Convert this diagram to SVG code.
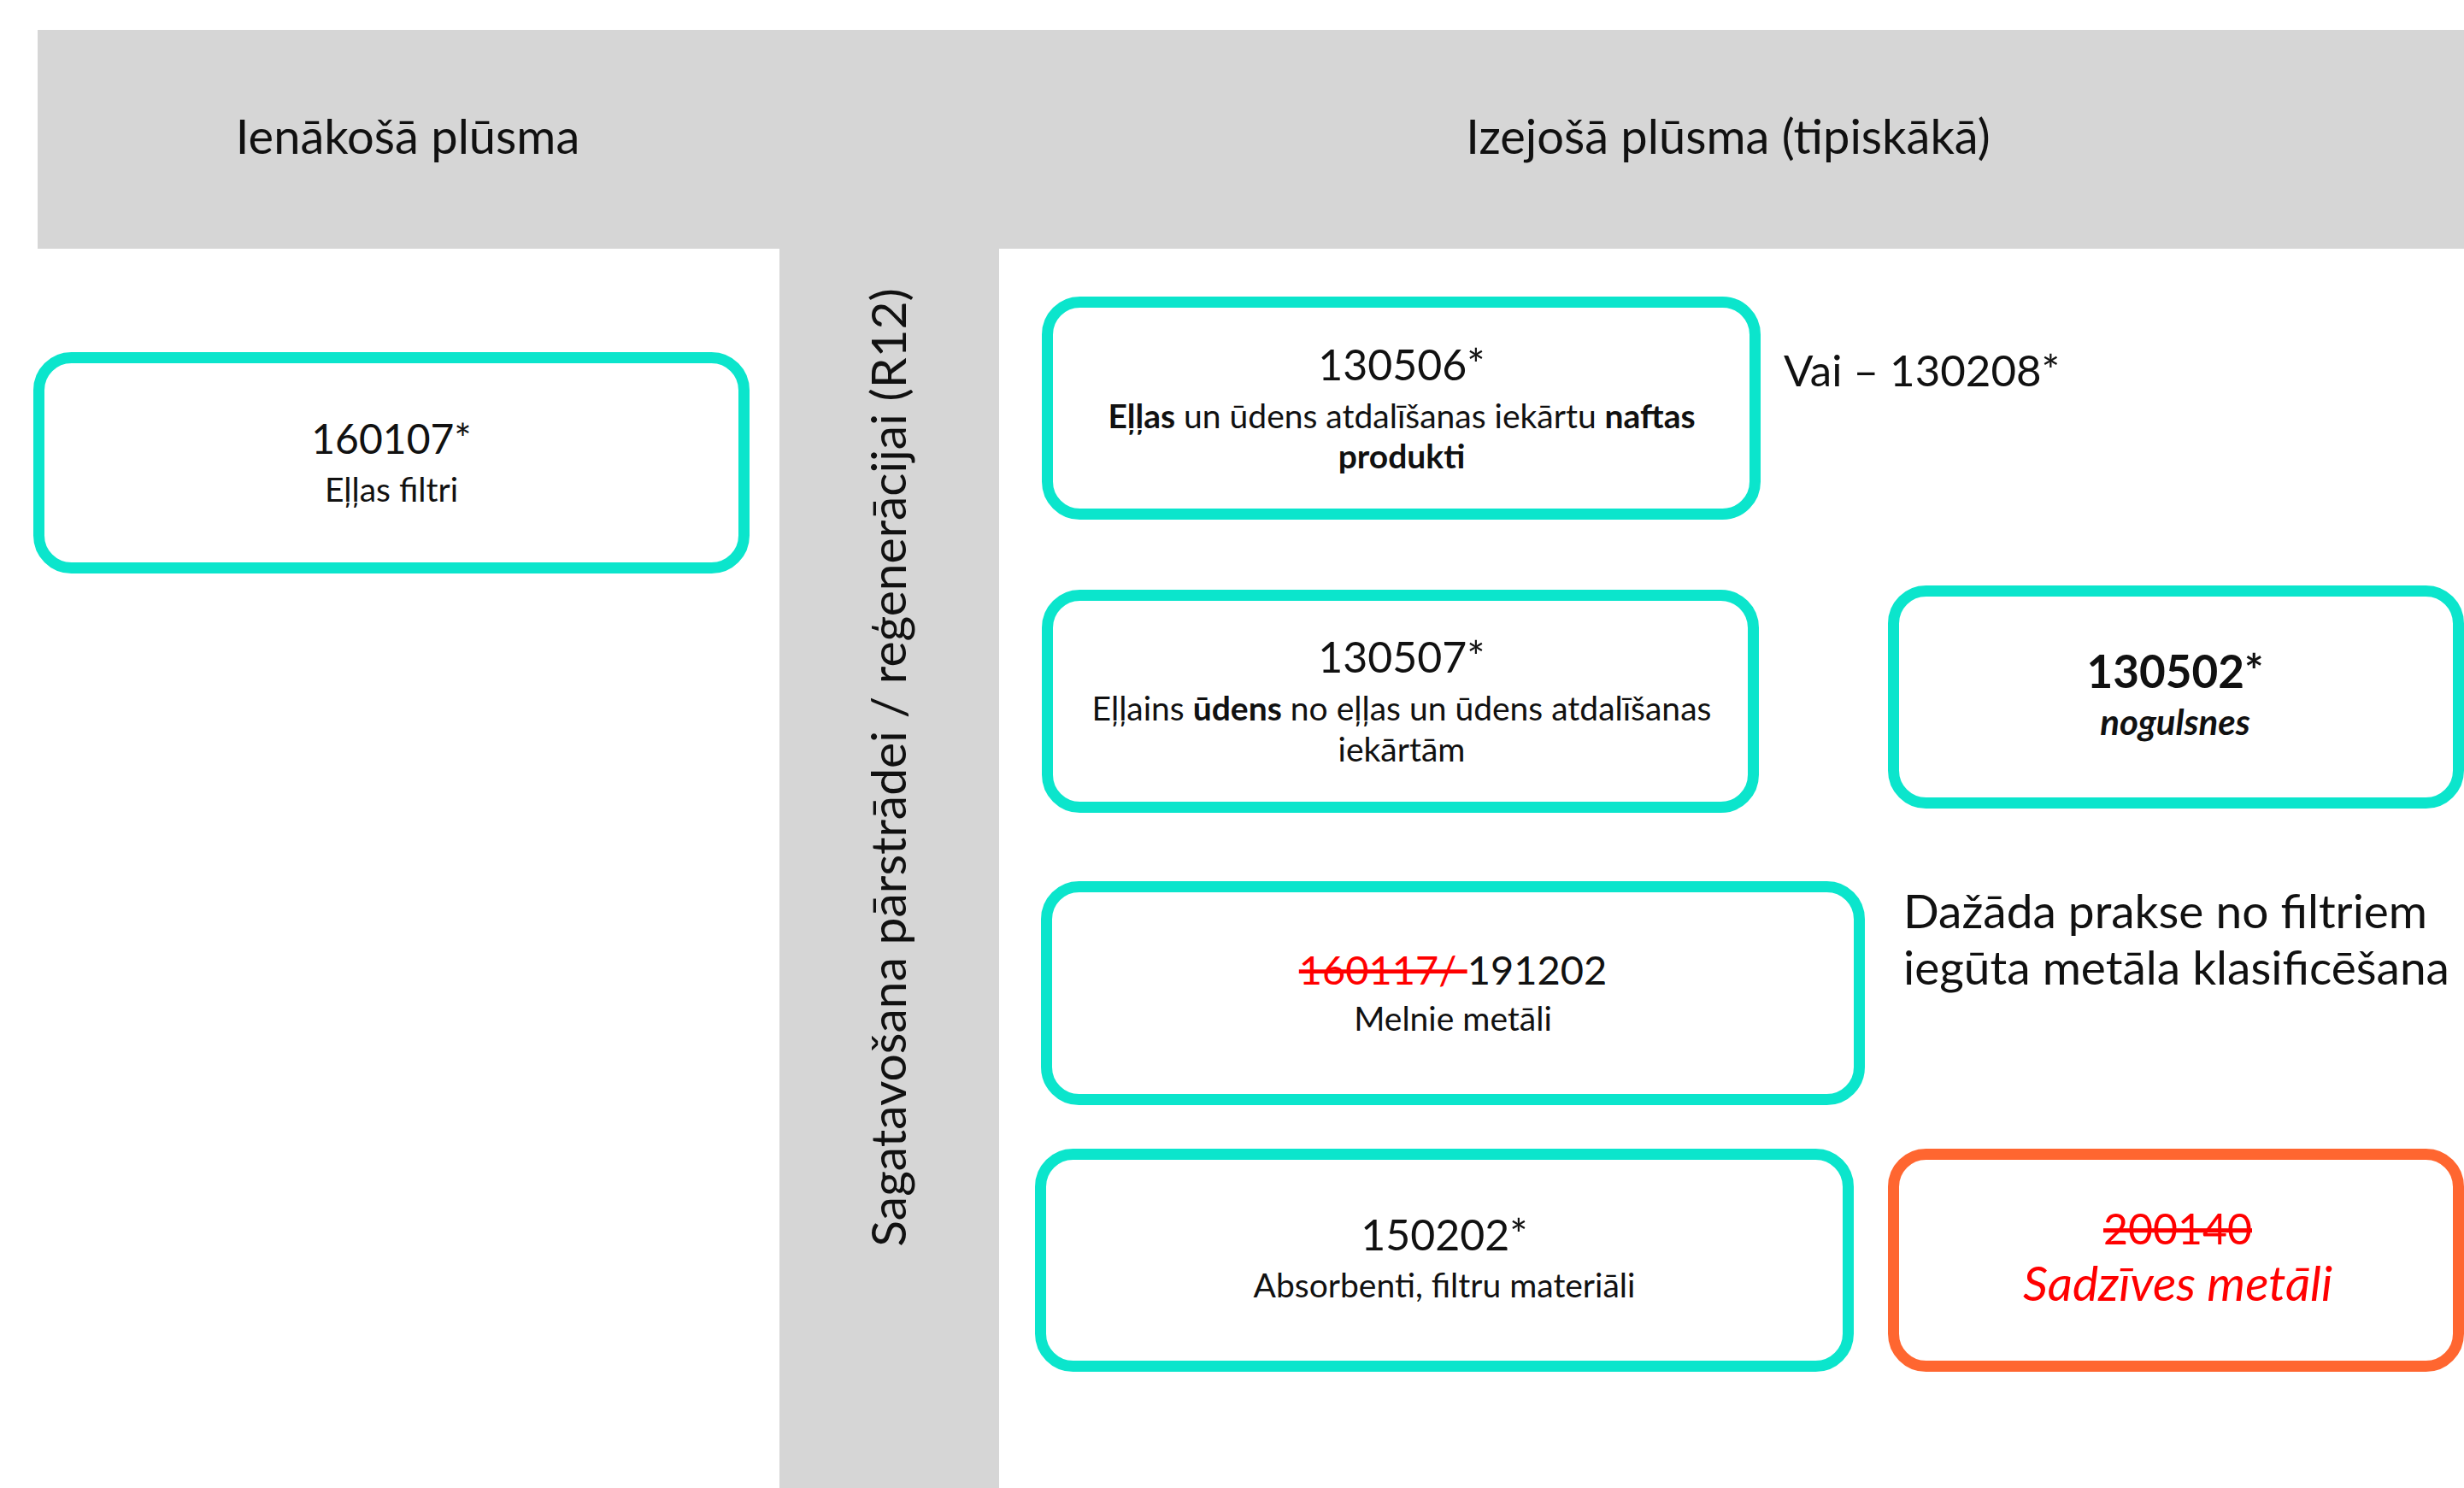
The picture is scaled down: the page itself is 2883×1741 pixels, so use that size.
<svg xmlns="http://www.w3.org/2000/svg" width="2883" height="1741" viewBox="0 0 2883 1741">
<style>
text{font-family:Lato,"Liberation Sans",sans-serif;fill:#111;}
.hdr{font-size:56px;text-anchor:middle;}
.vert{font-size:57px;text-anchor:middle;}
.code{font-size:50px;text-anchor:middle;}
.desc{font-size:39px;text-anchor:middle;}
.note{font-size:55px;}
.b{font-weight:bold;}
.i{font-style:italic;}
.red{fill:#ff0000;}
.strike{text-decoration:line-through;}
.box{fill:#ffffff;stroke:#0be5cc;stroke-width:13;}
.obox{fill:#ffffff;stroke:#ff6630;stroke-width:13;}
.band{fill:#d6d6d6;}
</style>
<rect width="2883" height="1741" fill="#ffffff"/>
<g id="background">
<rect class="band" x="44" y="35" width="2839" height="256"/>
<rect class="band" x="912" y="290" width="257" height="1451"/>
<text class="hdr" x="477" y="180">Ienākošā plūsma</text>
<text class="hdr" x="2022" y="180">Izejošā plūsma (tipiskākā)</text>
<text class="vert" transform="translate(1060 898) rotate(-90)">Sagatavošana pārstrādei / reģenerācijai (R12)</text>
</g>
<g id="connectors"></g>
<g id="n160107">
<rect class="box" x="45.5" y="418.5" width="825" height="246" rx="38"/>
<text class="code" x="458" y="531" style="font-size:48px">160107*</text>
<text class="desc" x="458" y="587">Eļļas filtri</text>
</g>
<g id="n130506">
<rect class="box" x="1225.5" y="353.5" width="828" height="248" rx="38"/>
<text class="code" x="1640" y="445">130506*</text>
<text class="desc" x="1640" y="501"><tspan class="b">Eļļas</tspan> un ūdens atdalīšanas iekārtu <tspan class="b">naftas</tspan></text>
<text class="desc b" x="1640" y="548">produkti</text>
</g>
<g id="n130208">
<text class="note" x="2087" y="452" style="font-size:51px">Vai – 130208*</text>
</g>
<g id="n130507">
<rect class="box" x="1225.5" y="696.5" width="826" height="248" rx="38"/>
<text class="code" x="1640" y="787">130507*</text>
<text class="desc" x="1640" y="843">Eļļains <tspan class="b">ūdens</tspan> no eļļas un ūdens atdalīšanas</text>
<text class="desc" x="1640" y="891">iekārtām</text>
</g>
<g id="n130502">
<rect class="box" x="2215.5" y="691.5" width="661" height="248" rx="38"/>
<text class="code b" x="2545" y="805" style="font-size:53px">130502*</text>
<text class="desc b i" x="2545" y="860" style="font-size:42px">nogulsnes</text>
</g>
<g id="n191202">
<rect class="box" x="1224.5" y="1037.5" width="951" height="249" rx="38"/>
<text class="code" x="1700" y="1152" style="font-size:47px"><tspan class="red strike">160117/ </tspan>191202</text>
<text class="desc" x="1700" y="1206">Melnie metāli</text>
</g>
<g id="nnote">
<text class="note" x="2227" y="1086">Dažāda prakse no filtriem</text>
<text class="note" x="2227" y="1152">iegūta metāla klasificēšana</text>
</g>
<g id="n150202">
<rect class="box" x="1217.5" y="1350.5" width="945" height="248" rx="38"/>
<text class="code" x="1690" y="1463">150202*</text>
<text class="desc" x="1690" y="1518">Absorbenti, filtru materiāli</text>
</g>
<g id="n200140">
<rect class="obox" x="2215.5" y="1350.5" width="661" height="248" rx="38"/>
<text class="code red strike" x="2548" y="1456">200140</text>
<text class="code red i" x="2548" y="1522" style="font-size:57px">Sadzīves metāli</text>
</g>
</svg>
